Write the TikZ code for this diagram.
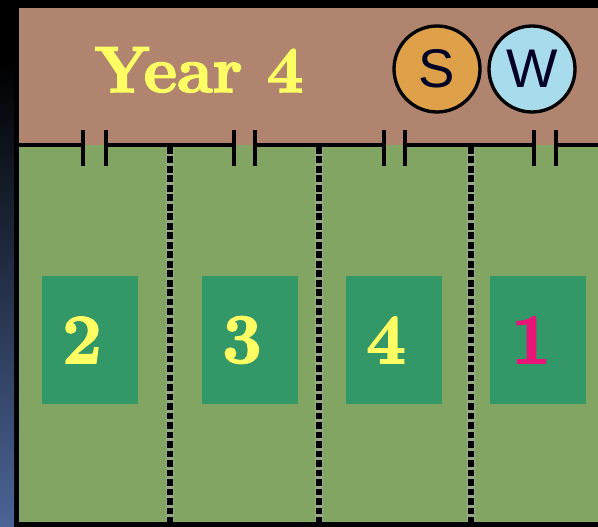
\documentclass[tikz,border=0pt]{standalone}
\usepackage{fontspec}
\usepackage{tikz}
\usetikzlibrary{positioning}
\newfontfamily\seasonfont{Liberation Sans}
\newfontfamily\heavyfont{Latin Modern Roman}[BoldFeatures={FakeBold=2.5}]
\definecolor{fdBrown} {RGB}{176,132,110}
\definecolor{fdField} {RGB}{130,165,100}
\definecolor{fdPlot}  {RGB}{ 50,152,104}
\definecolor{fdYellow}{RGB}{255,255,100}
\definecolor{fdPink}  {RGB}{232, 20,120}
\definecolor{fdSummer}{RGB}{222,160, 72}
\definecolor{fdWinter}{RGB}{168,220,236}
\definecolor{fdSide}  {RGB}{ 75,100,150}
\definecolor{fdHalo}  {RGB}{150,168,132}

\begin{document}
\begin{tikzpicture}[
  x=0.02cm,y=-0.02cm,
  every node/.style={inner sep=0pt},
  fence/.style={line width=2.2pt,black},
  post/.style={line width=1.9pt,black},
  strip/.style={line width=3pt,black,dash pattern=on 3.8pt off 1.6pt},
  plot/.style={rectangle,fill=fdPlot,minimum width=1.92cm,minimum height=2.56cm},
  num/.style={font=\heavyfont\fontsize{40}{40}\selectfont\bfseries,text=fdYellow},
  season/.style={circle,draw=black,line width=1.9pt,minimum size=1.72cm,
                 text=black!85!blue,font=\seasonfont\fontsize{31}{31}\selectfont}
]
\useasboundingbox (0,0) rectangle (598,527);

% frame and ground
\fill[black] (0,0) rectangle (598,527);
\shade[top color=black,bottom color=fdSide] (0,60) rectangle (14,527);
\fill[fdBrown] (19,8) rectangle (598,145);
\fill[fdField] (19,145) rectangle (598,522);

% strips between plots
\foreach \x in {170,319,471}{
  \draw[line width=4.2pt,fdHalo] (\x,147) -- (\x,522);
  \draw[strip] (\x,147) -- (\x,522);
}

% fence with gates
\draw[fence] (19,145) -- (83,145) (106,145) -- (234,145) (255,145) -- (384,145)
             (405,145) -- (534,145) (556,145) -- (598,145);
\foreach \a/\b in {83/106,234/255,384/405,534/556}{
  \draw[post] (\a,130) -- (\a,166);
  \draw[post] (\b,130) -- (\b,166);
}

\node[anchor=base,text=fdYellow,font=\heavyfont\fontsize{37}{37}\selectfont\bfseries]
   (title) at (199,92) {Year 4};
\node[season,fill=fdSummer] (summer) at (437,69) {S};
\node[season,fill=fdWinter] (winter) at (532,69) {W};

\node[plot] (plotA) at (90,340)  {};
\node[plot] (plotB) at (250,340) {};
\node[plot] (plotC) at (394,340) {};
\node[plot] (plotD) at (538,340) {};
\node[num] at ([xshift=-0.16cm]plotA.center) {2};
\node[num] at ([xshift=-0.16cm]plotB.center) {3};
\node[num] at ([xshift=-0.16cm]plotC.center) {4};
\node[num,text=fdPink] at ([xshift=-0.14cm]plotD.center) {1};
\end{tikzpicture}
\end{document}
